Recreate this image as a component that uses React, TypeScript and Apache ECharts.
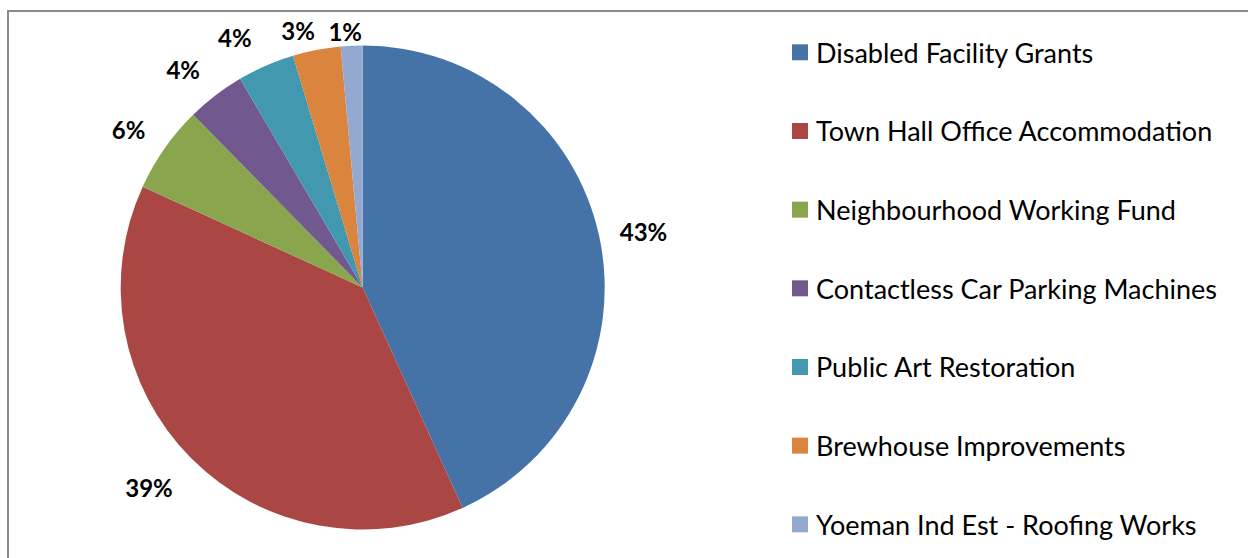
import React, { useEffect, useRef } from "react";
import * as echarts from "echarts";

const categories = [
  "Disabled Facility Grants",
  "Town Hall Office Accommodation",
  "Neighbourhood Working Fund",
  "Contactless Car Parking Machines",
  "Public Art Restoration",
  "Brewhouse Improvements",
  "Yoeman Ind Est - Roofing Works",
];
const shares = [43.2, 38.6, 5.8, 3.9, 3.8, 3.2, 1.45];
const sliceColors = ["#4572A7", "#AA4643", "#89A54E", "#71588F", "#4198AF", "#DB843D", "#93A9CF"];
// label placement tuning (radial length, horizontal length) per slice
const labelRadial = [21, 41.6, 33.4, 33, 30.6, 19.7, 14.7];
const labelHorizontal = [-5, -16, -13, -9.6, -3, -7, -16];

const FONT = "Lato, 'Noto Sans', sans-serif";

export default function App() {
  const ref = useRef<HTMLDivElement>(null);
  useEffect(() => {
    const chart = echarts.init(ref.current!, null, { renderer: "svg" });
    const data = categories.map((name, i) => ({
      name,
      value: shares[i],
      itemStyle: { color: sliceColors[i] },
      labelLine: { show: false, length: labelRadial[i], length2: labelHorizontal[i] },
    }));
    chart.setOption({
      animation: false,
      backgroundColor: "#ffffff",
      graphic: [
        {
          type: "rect",
          shape: { x: 8, y: 11, width: 1270, height: 580 },
          style: { fill: "none", stroke: "#8a8a8a", lineWidth: 2 },
          silent: true,
        },
      ],
      legend: {
        orient: "vertical",
        left: 787,
        top: 32.3,
        itemWidth: 16,
        itemHeight: 16,
        itemGap: 48.67,
        icon: "rect",
        data: categories,
        textStyle: {
          fontFamily: FONT,
          fontSize: 27,
          color: "#000000",
          lineHeight: 30,
          padding: [0, 0, 0, 3],
        },
      },
      series: [
        {
          type: "pie",
          center: [362.7, 287.5],
          radius: 242,
          startAngle: 90,
          clockwise: true,
          avoidLabelOverlap: false,
          data,
          label: {
            show: true,
            position: "outside",
            formatter: (p: any) => Math.round(p.percent) + "%",
            fontFamily: FONT,
            fontWeight: "bold",
            fontSize: 24,
            color: "#000000",
          },
          labelLine: { show: false },
          emphasis: { disabled: true },
        },
      ],
    });
    return () => chart.dispose();
  }, []);
  return (
    <div
      ref={ref}
      style={{ position: "absolute", left: 0, top: 0, width: 1248, height: 558 }}
    />
  );
}
